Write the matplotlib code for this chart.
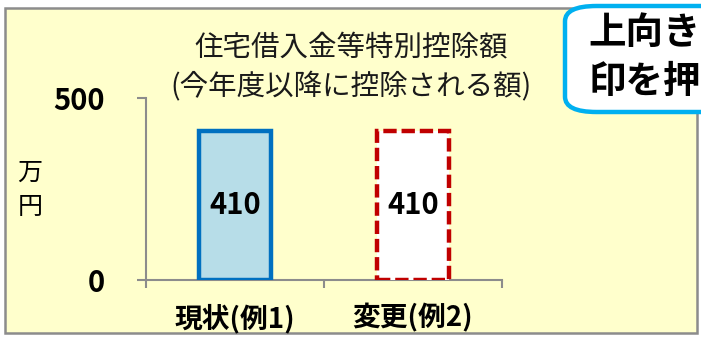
import matplotlib
matplotlib.use("Agg")
import matplotlib.pyplot as plt
from matplotlib.patches import Rectangle, FancyBboxPatch

plt.rcParams['font.family'] = ['Noto Sans CJK JP', 'DejaVu Sans']

categories = ["現状(例1)", "変更(例2)"]
values = [410, 410]
yticks = [0, 500]
title_lines = ["住宅借入金等特別控除額", "(今年度以降に控除される額)"]
unit_label = "万\n円"
callout_text = "上向き\n印を押"

W, H = 701, 339
fig = plt.figure(figsize=(W / 100, H / 100), dpi=100)
fig.patch.set_facecolor("white")

def fx(x):
    return x / W

def fy(y):
    return 1 - y / H

# outer frame
fig.patches.append(Rectangle((fx(5), fy(333)), fx(697) - fx(5), fy(8) - fy(333),
                             transform=fig.transFigure, facecolor="#FFFFCC",
                             edgecolor="#8C8C8C", linewidth=1.8, zorder=-1))

ax = fig.add_axes([fx(146), fy(280), fx(502) - fx(146), fy(98) - fy(280)])
ax.set_zorder(1)
ax.set_facecolor("none")
x = list(range(len(categories)))
ax.bar(x[0], values[0], width=0.41, color="#B7DDE8", edgecolor="#0070C0", linewidth=3.2, zorder=3)
ax.bar(x[1], values[1], width=0.41, color="white", edgecolor="#C00000", linewidth=3.2,
       linestyle=(0, (3.0, 1.1)), zorder=3)
for xi, v in zip(x, values):
    ax.text(xi, v / 2, str(v), ha="center", va="center", fontsize=21, fontweight="bold", zorder=4)

ax.set_xlim(-0.5, 1.5)
ax.set_ylim(0, 500)
for s in ["top", "right"]:
    ax.spines[s].set_visible(False)
for s in ["left", "bottom"]:
    ax.spines[s].set_color("#8C8C8C")
    ax.spines[s].set_linewidth(1.5)

ax.set_yticks(yticks)
ax.set_yticklabels([str(t) for t in yticks], fontsize=21, fontweight="bold")
ax.tick_params(axis="y", direction="out", length=6.5, width=1.5, color="#8C8C8C", pad=23)

ax.set_xticks(x)
ax.set_xticklabels(categories, fontsize=20, fontweight="bold")
ax.tick_params(axis="x", which="major", length=0, pad=17)
ax.set_xticks([-0.5, 0.5, 1.5], minor=True)
ax.tick_params(axis="x", which="minor", direction="out", length=5.5, width=1.5, color="#8C8C8C")

# title
fig.text(fx(351), fy(47), title_lines[0], ha="center", va="center", fontsize=20.5, color="#1a1a1a")
fig.text(fx(351), fy(86), title_lines[1], ha="center", va="center", fontsize=20.5, color="#1a1a1a")

# unit label
fig.text(fx(30), fy(190), unit_label, ha="center", va="center", fontsize=18, linespacing=1.45)

# callout box
fig.patches.append(FancyBboxPatch((fx(565), fy(112)), fx(800) - fx(565), fy(6) - fy(112),
                                  boxstyle="round,pad=0,rounding_size=0.045",
                                  transform=fig.transFigure, facecolor="white",
                                  edgecolor="#00B0F0", linewidth=3.2, zorder=5))
fig.text(fx(588), fy(57), callout_text, ha="left", va="center", fontsize=27,
         fontweight="bold", linespacing=1.3, zorder=6)

fig.savefig("out.png", dpi=100)
